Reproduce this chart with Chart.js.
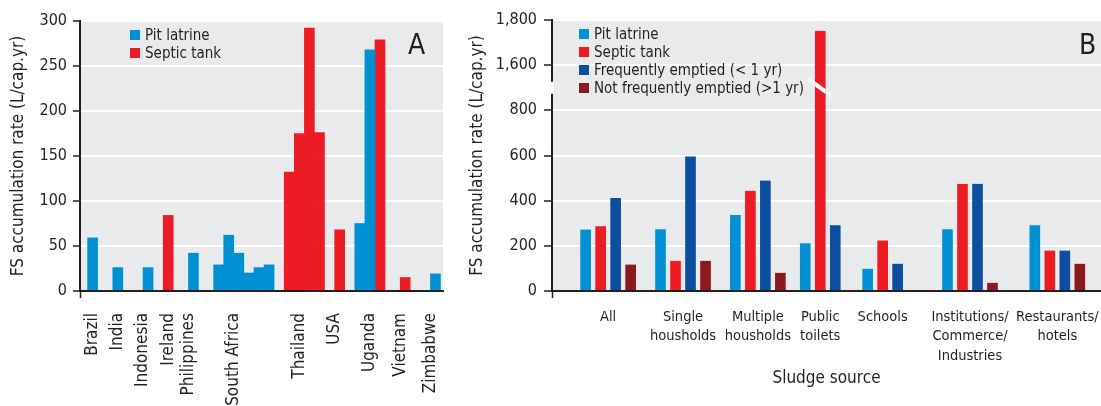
<!DOCTYPE html>
<html>
<head>
<meta charset="utf-8">
<script src="https://cdn.jsdelivr.net/npm/chart.js@4.4.1/dist/chart.umd.min.js"></script>
<style>
  body { margin: 0; background: #fff; }
  #figure { position: relative; width: 1101px; height: 406px; font-family: "DejaVu Sans Condensed", "DejaVu Sans", sans-serif; color: #231f20; }
  canvas { position: absolute; top: 0; }
  .legend { position: absolute; font-size: 15px; }
  .legend div { height: 18px; line-height: 18px; display: flex; align-items: center; white-space: nowrap; }
  .legend span { width: 10px; height: 10px; margin-right: 5px; flex: none; }
  .panel { position: absolute; font-size: 28px; line-height: 28px; }
</style>
</head>
<body>
<div id="figure">
  <canvas id="chartA" width="450" height="406" style="left:0"></canvas>
  <canvas id="chartB" width="651" height="406" style="left:450px"></canvas>
  <div class="legend" id="legendA" style="left:130px;top:26px"></div>
  <div class="legend" id="legendB" style="left:579px;top:25px"></div>
  <div class="panel" style="left:408px;top:31px">A</div>
  <div class="panel" style="left:1079px;top:31px">B</div>
</div>
<script>
const _ = null;

// Panel A: one entry per half-bar slot along the x axis ('' / null = empty slot)
const countrySlots = [
  '', '', 'Brazil', '', '', '', '', 'India', '', '', '', '',
  'Indonesia', '', '', '', '', 'Ireland', '', '', '', 'Philippines', '', '',
  '', '', '', '', '', '', 'South Africa', '', '', '', '', '',
  '', '', '', '', '', '', '', 'Thailand', '', '', '', '',
  '', '', 'USA', '', '', '', '', '', '', 'Uganda', '', '',
  '', '', '', 'Vietnam', '', '', '', '', '', 'Zimbabwe', '', ''
];
const pitLatrineA = [
  _, _, 59, _, _, _, _, 26, _, _, _, _,
  _, 26, _, _, _, _, _, _, _, _, 42, _,
  _, _, _, 29, _, 62, _, 42, _, 20, _, 26,
  _, 29, _, _, _, _, _, _, _, _, _, _,
  _, _, _, _, _, _, _, 75, _, 268, _, _,
  _, _, _, _, _, _, _, _, _, _, 19, _
];
const septicTankA = [
  _, _, _, _, _, _, _, _, _, _, _, _,
  _, _, _, _, _, 84, _, _, _, _, _, _,
  _, _, _, _, _, _, _, _, _, _, _, _,
  _, _, _, _, _, 132, _, 175, _, 292, _, 176,
  _, _, _, 68, _, _, _, _, _, _, _, 279,
  _, _, _, _, 15, _, _, _, _, _, _, _
];

// Panel B
const sources = ['All', ['Single', 'housholds'], ['Multiple', 'housholds'], ['Public', 'toilets'],
  'Schools', ['Institutions/', 'Commerce/', 'Industries'], ['Restaurants/', 'hotels']];
const pitLatrineB = [272, 273, 336, 211, 99, 273, 291];
const septicTankB = [287, 134, 444, 1752, 224, 475, 179];
const frequentB = [412, 596, 489, 291, 121, 475, 179];
const notFrequentB = [117, 134, 81, _, _, 36, 121];

const yTicksA = { min: 0, max: 300, step: 50 };
// broken axis: 0-800, then 1,600-1,800
const breakLow = 800, breakHigh = 1600, breakShift = 600;

// layout of panel B: which slot of a 44-slot category axis each source sits on
const slotCountB = 44;
const sourceSlotB = [4, 10, 16, 21, 26, 33, 40];

const INK = '#231f20';
const PLOT_BG = '#e9eaec';
const PIT = '#0090d4', SEPTIC = '#ed1c24', FREQ = '#0d4ea1', NOTFREQ = '#8a1a1f';

Chart.defaults.font.family = '"DejaVu Sans Condensed", "DejaVu Sans", sans-serif';
Chart.defaults.color = INK;

const toDisplay = v => (v == null ? null : v >= breakHigh ? v - breakShift : v);
const fromDisplay = v => (v > breakLow ? v + breakShift : v);
const toSlots = (values, blank) => {
  const out = new Array(slotCountB).fill(blank);
  values.forEach((v, i) => { out[sourceSlotB[i]] = v; });
  return out;
};

const plotBackground = {
  id: 'plotBackground',
  beforeDraw(chart) {
    const { ctx, chartArea: a } = chart;
    ctx.save();
    ctx.fillStyle = PLOT_BG;
    ctx.fillRect(a.left, a.top, a.right - a.left, a.bottom - a.top);
    ctx.restore();
  }
};

const axisBreak = {
  id: 'axisBreak',
  afterDraw(chart) {
    const { ctx, chartArea, scales: { y } } = chart;
    const yMid = y.getPixelForValue((breakLow + breakHigh - breakShift) / 2);
    ctx.save();
    ctx.fillStyle = '#fff';
    ctx.fillRect(chartArea.left - 2, yMid - 6, 4, 12);
    chart.data.datasets.forEach((ds, i) => {
      const meta = chart.getDatasetMeta(i);
      ds.data.forEach((v, j) => {
        if (v == null || v <= breakLow) return;
        const x = meta.data[j].x;
        ctx.lineWidth = 4;
        ctx.strokeStyle = 'rgba(255,255,255,0.5)';
        ctx.beginPath();
        ctx.moveTo(x - 12.5, yMid - 9);
        ctx.lineTo(x + 12.5, yMid + 9);
        ctx.stroke();
        ctx.save();
        ctx.beginPath();
        ctx.rect(x - 5, yMid - 12, 10, 24);
        ctx.clip();
        ctx.strokeStyle = '#fff';
        ctx.beginPath();
        ctx.moveTo(x - 12.5, yMid - 9);
        ctx.lineTo(x + 12.5, yMid + 9);
        ctx.stroke();
        ctx.restore();
      });
    });
    ctx.restore();
  }
};

const leftTickOnly = {
  drawOnChartArea: false,
  tickLength: 7,
  tickWidth: 1.5,
  color: c => (c.index === 0 ? INK : 'rgba(0,0,0,0)')
};
const axisBorder = { color: INK, width: 2, z: 1 };
const valueGrid = { color: '#fff', lineWidth: 2, tickColor: INK, tickWidth: 1.5 };
const yTitle = { display: true, text: 'FS accumulation rate (L/cap.yr)', font: { size: 17 } };

// the category axis must span the whole plot width
function fitXAxis(height) {
  return scale => {
    scale.height = height;
    scale.paddingLeft = 0;
    scale.paddingRight = 0;
  };
}

const chartA = new Chart(document.getElementById('chartA'), {
  type: 'bar',
  data: {
    labels: countrySlots,
    datasets: [
      { label: 'Pit latrine', data: pitLatrineA, backgroundColor: PIT },
      { label: 'Septic tank', data: septicTankA, backgroundColor: SEPTIC }
    ]
  },
  options: {
    responsive: false,
    animation: false,
    events: [],
    layout: { padding: { top: 21, right: 7 } },
    datasets: { bar: { barThickness: 10, skipNull: true } },
    plugins: { legend: { display: false }, tooltip: { enabled: false } },
    scales: {
      x: {
        ticks: { autoSkip: false, minRotation: 90, maxRotation: 90, padding: 15, font: { size: 17 } },
        grid: leftTickOnly,
        border: axisBorder,
        afterFit: fitXAxis(115)
      },
      y: {
        min: yTicksA.min,
        max: yTicksA.max,
        ticks: { stepSize: yTicksA.step, padding: 6, font: { size: 16 } },
        grid: { ...valueGrid, tickLength: 7 },
        border: axisBorder,
        title: { ...yTitle, padding: { top: 8, bottom: 0 } },
        afterFit(scale) { scale.width = 80; }
      }
    }
  },
  plugins: [plotBackground]
});

const chartB = new Chart(document.getElementById('chartB'), {
  type: 'bar',
  data: {
    labels: toSlots(sources, ''),
    datasets: [
      { label: 'Pit latrine', data: toSlots(pitLatrineB, _), backgroundColor: PIT },
      { label: 'Septic tank', data: toSlots(septicTankB.map(toDisplay), _), backgroundColor: SEPTIC },
      { label: 'Frequently emptied (< 1 yr)', data: toSlots(frequentB, _), backgroundColor: FREQ },
      { label: 'Not frequently emptied (>1 yr)', data: toSlots(notFrequentB, _), backgroundColor: NOTFREQ }
    ]
  },
  options: {
    responsive: false,
    animation: false,
    events: [],
    layout: { padding: { top: 20 } },
    datasets: {
      bar: {
        barThickness: 15,
        skipNull: true,
        borderWidth: { left: 2.5, right: 2.5, top: 0, bottom: 0 },
        borderColor: 'rgba(0,0,0,0)'
      }
    },
    plugins: { legend: { display: false }, tooltip: { enabled: false } },
    scales: {
      x: {
        ticks: { autoSkip: false, maxRotation: 0, padding: 9, font: { size: 14.5, lineHeight: 1.35 } },
        grid: leftTickOnly,
        border: axisBorder,
        title: { display: true, text: 'Sludge source', font: { size: 17 }, padding: { top: 0, bottom: 17 } },
        afterFit: fitXAxis(115)
      },
      y: {
        min: 0,
        max: 1200,
        ticks: { stepSize: 200, padding: 7, font: { size: 16 }, callback: v => fromDisplay(v).toLocaleString('en-US') },
        grid: { ...valueGrid, tickLength: 8 },
        border: axisBorder,
        title: { ...yTitle, padding: { top: 17, bottom: 0 } },
        afterFit(scale) { scale.width = 102; }
      }
    }
  },
  plugins: [plotBackground, axisBreak]
});

function buildLegend(chart, id) {
  const box = document.getElementById(id);
  chart.data.datasets.forEach(ds => {
    const row = document.createElement('div');
    const swatch = document.createElement('span');
    swatch.style.background = ds.backgroundColor;
    row.appendChild(swatch);
    row.appendChild(document.createTextNode(ds.label));
    box.appendChild(row);
  });
}
buildLegend(chartA, 'legendA');
buildLegend(chartB, 'legendB');
</script>
</body>
</html>
